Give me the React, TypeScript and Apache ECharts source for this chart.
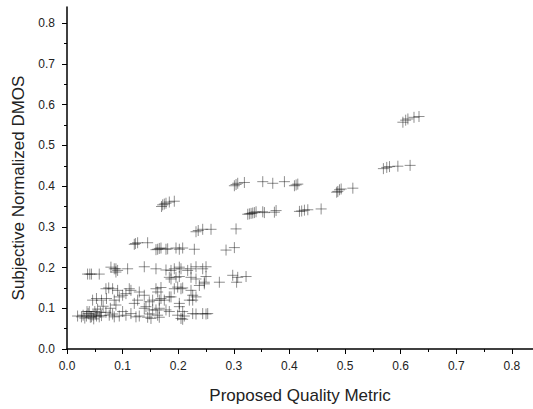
import React, { useEffect, useRef } from "react";
import * as echarts from "echarts";

// Proposed Quality Metric (x) and Subjective Normalized DMOS (y), paired by index
const qualityMetric: number[] = [
  0.604, 0.609, 0.613, 0.624, 0.633,
  0.569, 0.575, 0.58, 0.595, 0.617,
  0.485, 0.487, 0.49, 0.493, 0.514,
  0.352, 0.37, 0.391, 0.409, 0.412, 0.415,
  0.301, 0.304, 0.307, 0.319,
  0.325, 0.328, 0.331, 0.334, 0.337, 0.34, 0.352, 0.355, 0.376, 0.373,
  0.418, 0.422, 0.427, 0.433, 0.457,
  0.17, 0.172, 0.175, 0.178, 0.184, 0.193,
  0.232, 0.236, 0.244, 0.259, 0.304,
  0.121, 0.123, 0.127, 0.145,
  0.16, 0.163, 0.166, 0.169, 0.178, 0.181, 0.196, 0.202, 0.208, 0.229, 0.286, 0.301,
  0.298, 0.307, 0.322, 0.305,
  0.037, 0.041, 0.044, 0.058, 0.079, 0.085, 0.088, 0.091, 0.088, 0.109, 0.139, 0.16,
  0.178, 0.187, 0.193, 0.202, 0.205, 0.217, 0.223, 0.232, 0.244, 0.25,
  0.184, 0.187, 0.196, 0.202, 0.223, 0.232, 0.25, 0.247, 0.274, 0.238, 0.247,
  0.07, 0.075, 0.082, 0.091, 0.112, 0.115, 0.13, 0.139, 0.16, 0.163, 0.169, 0.184, 0.193, 0.199, 0.205, 0.208, 0.223, 0.226,
  0.046, 0.053, 0.062, 0.071, 0.085, 0.094, 0.1, 0.106, 0.121, 0.127, 0.148, 0.154, 0.166, 0.169, 0.175, 0.187, 0.202, 0.22, 0.226, 0.232,
  0.139, 0.142, 0.154, 0.16, 0.166, 0.178, 0.184, 0.202, 0.208, 0.226, 0.244, 0.253,
  0.019, 0.026, 0.029, 0.032, 0.035, 0.038, 0.04, 0.042, 0.044, 0.047, 0.05, 0.053, 0.055, 0.058, 0.06, 0.065, 0.07, 0.076, 0.078, 0.082, 0.085, 0.088, 0.094, 0.1, 0.106, 0.115, 0.124, 0.13, 0.145, 0.148, 0.151, 0.163, 0.166, 0.199, 0.205, 0.211, 0.208, 0.232, 0.25, 0.036, 0.048, 0.052, 0.062,
];

const subjectiveDMOS: number[] = [
  0.557, 0.562, 0.565, 0.569, 0.571,
  0.443, 0.446, 0.448, 0.449, 0.451,
  0.385, 0.387, 0.391, 0.393, 0.395,
  0.411, 0.407, 0.411, 0.401, 0.403, 0.405,
  0.401, 0.404, 0.407, 0.409,
  0.331, 0.332, 0.333, 0.334, 0.335, 0.337, 0.337, 0.335, 0.34, 0.336,
  0.338, 0.339, 0.341, 0.342, 0.344,
  0.35, 0.354, 0.356, 0.358, 0.361, 0.363,
  0.288, 0.291, 0.294, 0.294, 0.295,
  0.257, 0.259, 0.261, 0.261,
  0.244, 0.245, 0.247, 0.248, 0.245, 0.246, 0.248, 0.245, 0.248, 0.245, 0.243, 0.249,
  0.181, 0.176, 0.178, 0.164,
  0.184, 0.184, 0.184, 0.184, 0.201, 0.197, 0.197, 0.193, 0.189, 0.197, 0.202, 0.197,
  0.194, 0.193, 0.197, 0.201, 0.197, 0.193, 0.197, 0.202, 0.197, 0.202,
  0.176, 0.172, 0.176, 0.178, 0.176, 0.172, 0.178, 0.164, 0.164, 0.156, 0.16,
  0.148, 0.15, 0.148, 0.144, 0.148, 0.144, 0.14, 0.132, 0.148, 0.14, 0.151, 0.128, 0.148, 0.152, 0.148, 0.15, 0.144, 0.132,
  0.12, 0.124, 0.12, 0.124, 0.12, 0.128, 0.132, 0.136, 0.112, 0.12, 0.116, 0.12, 0.12, 0.124, 0.12, 0.128, 0.112, 0.12, 0.12, 0.128,
  0.1, 0.104, 0.096, 0.096, 0.1, 0.096, 0.092, 0.104, 0.092, 0.087, 0.087, 0.087,
  0.081, 0.079, 0.083, 0.076, 0.081, 0.087, 0.092, 0.078, 0.079, 0.083, 0.092, 0.081, 0.098, 0.079, 0.09, 0.105, 0.09, 0.083, 0.1, 0.086, 0.079, 0.108, 0.081, 0.092, 0.083, 0.087, 0.079, 0.081, 0.078, 0.086, 0.075, 0.083, 0.078, 0.083, 0.075, 0.081, 0.073, 0.086, 0.086, 0.092, 0.074, 0.086, 0.082,
];

const majorTicks: number[] = [0, 0.1, 0.2, 0.3, 0.4, 0.5, 0.6, 0.7, 0.8];
const minorTicks: number[] = [0.05, 0.15, 0.25, 0.35, 0.45, 0.55, 0.65, 0.75];

const xName = "Proposed Quality Metric";
const yName = "Subjective Normalized DMOS";

export default function App() {
  const ref = useRef<HTMLDivElement>(null);
  useEffect(() => {
    if (!ref.current) return;
    const chart = echarts.init(ref.current, undefined, { renderer: "svg" });
    const data = qualityMetric.map((x, i) => [x, subjectiveDMOS[i]]);
    const font = "'Liberation Sans', Arial, sans-serif";
    const fmt = (v: number) => v.toFixed(1);
    const mainAxis = (name: string, max: number, isY: boolean) => ({
      type: "value",
      min: 0,
      max,
      position: isY ? "left" : "bottom",
      name,
      nameLocation: "middle",
      nameGap: isY ? 40 : 38,
      nameTextStyle: {
        fontFamily: font,
        fontSize: 17,
        color: "#222",
        padding: isY ? [0, 20, 0, 0] : 0,
      },
      axisLine: { show: true, lineStyle: { color: "#000", width: 1.5 } },
      axisTick: { show: true, length: 5, customValues: majorTicks, lineStyle: { color: "#000", width: 1 } },
      axisLabel: {
        show: true,
        customValues: majorTicks,
        formatter: fmt,
        fontFamily: font,
        fontSize: 12,
        color: "#222",
        margin: isY ? 12 : 11,
      },
      splitLine: { show: false },
    });
    const minorAxis = (max: number, isY: boolean) => ({
      type: "value",
      min: 0,
      max,
      position: isY ? "left" : "bottom",
      axisLine: { show: false },
      axisTick: { show: true, length: 3, customValues: minorTicks, lineStyle: { color: "#000", width: 1 } },
      axisLabel: { show: false },
      splitLine: { show: false },
    });
    chart.setOption({
      animation: false,
      backgroundColor: "#fff",
      grid: { left: 67, right: 0, top: 7, bottom: 56, containLabel: false },
      xAxis: [mainAxis(xName, 0.838, false), minorAxis(0.838, false)],
      yAxis: [mainAxis(yName, 0.84, true), minorAxis(0.84, true)],
      series: [
        {
          type: "scatter",
          xAxisIndex: 0,
          yAxisIndex: 0,
          data,
          symbol: "path://M0,5L10,5M5,0L5,10",
          symbolSize: 11,
          itemStyle: { color: "transparent", borderColor: "rgba(20,20,20,0.6)", borderWidth: 1 },
          emphasis: { disabled: true },
        },
      ],
    });
    return () => chart.dispose();
  }, []);
  return (
    <div
      ref={ref}
      style={{ position: "fixed", left: 0, top: 0, width: 533, height: 409, background: "#fff" }}
    />
  );
}
